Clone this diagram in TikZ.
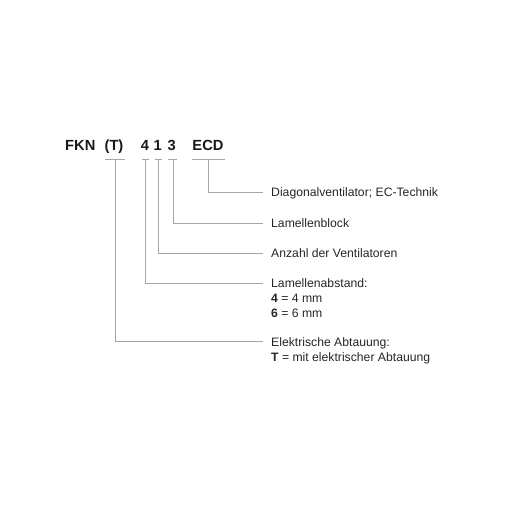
\documentclass[tikz,border=0pt]{standalone}
\usepackage{fontspec}
\setmainfont{Liberation Sans}
\begin{document}
\begin{tikzpicture}[x=1pt,y=-1pt,
  code/.style={inner sep=0pt,font=\fontsize{14.7}{16}\selectfont\bfseries,text=black!90,anchor=base},
  lab/.style={inner sep=0pt,font=\fontsize{12.2}{15}\selectfont,text=black!85,anchor=base west},
  conn/.style={draw=black!35,line width=0.9pt}]
\useasboundingbox (0,0) rectangle (510,510);
% code parts
\node[code,anchor=base west] (fkn) at (65,150.7) {FKN};
\node[code] (cT) at (114,150.7) {(T)};
\node[code] (c4) at (145,150.7) {4};
\node[code] (c1) at (157.8,150.7) {1};
\node[code] (c3) at (171.8,150.7) {3};
\node[code] (cE) at (208,150.7) {ECD};
% bar coordinates
\coordinate (bT) at (115,159);
\coordinate (b4) at (145,159);
\coordinate (b1) at (158,159);
\coordinate (b3) at (173,159);
\coordinate (bE) at (208,159);
% labels
\node[lab] (lE) at (271,197) {Diagonalventilator; EC-Technik};
\node[lab] (l3) at (271,227.5) {Lamellenblock};
\node[lab] (l1) at (271,257.5) {Anzahl der Ventilatoren};
\node[lab] (l4) at (271,287.5) {Lamellenabstand:};
\node[lab] (l4a) at (271,302.5) {\textbf{4} = 4 mm};
\node[lab] (l4b) at (271,317.5) {\textbf{6} = 6 mm};
\node[lab] (lT) at (271,346.5) {Elektrische Abtauung:};
\node[lab] (lTa) at (271,361.5) {\textbf{T} = mit elektrischer Abtauung};
% end points
\coordinate (eE) at (263,192.5);
\coordinate (e3) at (263,223);
\coordinate (e1) at (263,253);
\coordinate (e4) at (263,283.5);
\coordinate (eT) at (263,341.5);
% bars
\draw[conn] (105,159) -- (125,159);
\draw[conn] (142,159) -- (148.5,159);
\draw[conn] (155,159) -- (161.5,159);
\draw[conn] (168,159) -- (177,159);
\draw[conn] (192,159) -- (225,159);
% connectors
\draw[conn] (bE) |- (eE);
\draw[conn] (b3) |- (e3);
\draw[conn] (b1) |- (e1);
\draw[conn] (b4) |- (e4);
\draw[conn] (bT) |- (eT);
\end{tikzpicture}
\end{document}
